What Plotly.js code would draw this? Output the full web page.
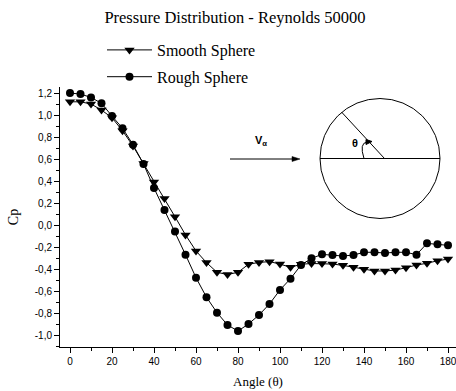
<!DOCTYPE html>
<html>
<head>
<meta charset="utf-8">
<script src="https://cdn.plot.ly/plotly-3.0.1.min.js"></script>
<style>html,body{margin:0;padding:0;background:#fff}#chart{width:456px;height:391px}</style>
</head>
<body>
<div id="chart"></div>
<script>
const angles = [0,5,10,15,20,25,30,35,40,45,50,55,60,65,70,75,80,85,90,95,100,105,110,115,120,125,130,135,140,145,150,155,160,165,170,175,180];
const smoothCp = [1.12,1.12,1.10,1.045,0.975,0.857,0.718,0.56,0.39,0.24,0.075,-0.09,-0.236,-0.342,-0.43,-0.45,-0.43,-0.357,-0.34,-0.333,-0.355,-0.385,-0.357,-0.35,-0.35,-0.355,-0.367,-0.385,-0.403,-0.418,-0.418,-0.41,-0.388,-0.364,-0.348,-0.325,-0.31];
const roughCp = [1.20,1.19,1.16,1.106,0.99,0.88,0.73,0.555,0.336,0.136,-0.06,-0.27,-0.479,-0.657,-0.797,-0.909,-0.964,-0.90,-0.818,-0.718,-0.59,-0.488,-0.364,-0.303,-0.267,-0.273,-0.282,-0.273,-0.248,-0.248,-0.255,-0.248,-0.248,-0.27,-0.167,-0.176,-0.185];
const seriesNames = ["Smooth Sphere","Rough Sphere"];
const xTickVals = [0,20,40,60,80,100,120,140,160,180];
const xTickText = ["0","20","40","60","80","100","120","140","160","180"];
const xMinorVals = [10,30,50,70,90,110,130,150,170];
const yTickVals = [-1.0,-0.8,-0.6,-0.4,-0.2,0.0,0.2,0.4,0.6,0.8,1.0,1.2];
const yTickText = ["-1,0","-0,8","-0,6","-0,4","-0,2","0,0","0,2","0,4","0,6","0,8","1,0","1,2"];
const yMinorVals = [-1.1,-0.9,-0.7,-0.5,-0.3,-0.1,0.1,0.3,0.5,0.7,0.9,1.1];
const titleText = "Pressure Distribution - Reynolds 50000";

// plot area in pixels
const L = 60, R = 456, T = 87, B = 347;
const px = v => (v - L) / (R - L);
const py = v => (B - v) / (B - T);

const serif = "Liberation Serif, Times New Roman, serif";
const sans = "Liberation Sans, Arial, sans-serif";

const traces = [
  {x: angles, y: smoothCp, name: seriesNames[0], type: "scatter", mode: "lines+markers",
   line: {color: "#000", width: 1}, marker: {symbol: "triangle-down", size: 9, color: "#000"},
   legendgroup: "a", cliponaxis: false},
  {x: angles, y: roughCp, name: seriesNames[1], type: "scatter", mode: "lines+markers",
   line: {color: "#000", width: 1}, marker: {symbol: "circle", size: 8, color: "#000"},
   legendgroup: "b", cliponaxis: false}
];

const shapes = [
  {type: "circle", xref: "paper", yref: "paper", x0: px(320), x1: px(440), y0: py(218.5), y1: py(98.5),
   line: {color: "#000", width: 1}},
  {type: "line", xref: "paper", yref: "paper", x0: px(320), x1: px(440), y0: py(158.5), y1: py(158.5),
   line: {color: "#000", width: 1}},
  {type: "line", xref: "paper", yref: "paper", x0: px(384.5), x1: px(341.5), y0: py(158.5), y1: py(112),
   line: {color: "#000", width: 1}},
  {type: "path", xref: "paper", yref: "paper",
   path: `M ${px(364)} ${py(158.5)} Q ${px(359)} ${py(143)} ${px(367)} ${py(142)}`,
   line: {color: "#000", width: 1}},
  {type: "path", xref: "paper", yref: "paper",
   path: `M ${px(366)} ${py(139.5)} L ${px(372)} ${py(141.5)} L ${px(366)} ${py(144.5)} Z`,
   fillcolor: "#000", line: {color: "#000", width: 1}},
  {type: "line", xref: "paper", yref: "paper", x0: px(230), x1: px(296), y0: py(159), y1: py(159),
   line: {color: "#000", width: 1}},
  {type: "path", xref: "paper", yref: "paper",
   path: `M ${px(292)} ${py(156.5)} L ${px(300)} ${py(159)} L ${px(292)} ${py(161.5)} Z`,
   fillcolor: "#000", line: {color: "#000", width: 0.5}}
];

const annotations = [
  {xref: "paper", yref: "paper", x: px(261), y: py(141), xanchor: "center", yanchor: "middle",
   text: "<b>V<sub>α</sub></b>", showarrow: false,
   font: {family: sans, size: 11, color: "#000"}},
  {xref: "paper", yref: "paper", x: px(355), y: py(143), xanchor: "center", yanchor: "middle",
   text: "<b>θ</b>", showarrow: false,
   font: {family: sans, size: 11, color: "#000"}}
];

const layout = {
  width: 456, height: 391,
  margin: {l: L, r: 456 - R, t: T, b: 391 - B, pad: 0},
  paper_bgcolor: "#fff", plot_bgcolor: "#fff",
  title: {text: titleText, font: {family: serif, size: 16.5, color: "#000"},
          x: px(235), xref: "paper", xanchor: "center", y: 1 - 17/391, yanchor: "middle"},
  showlegend: true,
  legend: {x: px(102), y: py(33), xref: "paper", yref: "paper", xanchor: "left", yanchor: "top",
           font: {family: serif, size: 16, color: "#000"}, bgcolor: "rgba(0,0,0,0)",
           itemwidth: 45, tracegroupgap: 3, traceorder: "grouped"},
  xaxis: {range: [(L - 70) / 2.1, (R - 70) / 2.1], showgrid: false, zeroline: false,
          showline: true, linecolor: "#000", linewidth: 1, mirror: false,
          ticks: "outside", ticklen: 5, tickwidth: 1, tickcolor: "#000",
          tickmode: "array", tickvals: xTickVals, ticktext: xTickText,
          ticklabeloverflow: "allow",
          tickfont: {family: sans, size: 10, color: "#000"},
          minor: {tickmode: "array", tickvals: xMinorVals, ticks: "outside", ticklen: 3, tickcolor: "#000", showgrid: false},
          title: {text: "Angle (θ)", font: {family: serif, size: 13, color: "#000"}, standoff: 10}},
  yaxis: {range: [(225 - B) / 110, (225 - T) / 110], showgrid: false, zeroline: false,
          showline: true, linecolor: "#000", linewidth: 1, mirror: false,
          ticks: "outside", ticklen: 5, tickwidth: 1, tickcolor: "#000",
          tickmode: "array", tickvals: yTickVals, ticktext: yTickText,
          tickfont: {family: sans, size: 10, color: "#000"},
          minor: {tickmode: "array", tickvals: yMinorVals, ticks: "outside", ticklen: 3, tickcolor: "#000", showgrid: false},
          title: {text: "Cp", font: {family: serif, size: 14, color: "#000"}, standoff: 12}},
  shapes: shapes,
  annotations: annotations
};

Plotly.newPlot("chart", traces, layout, {displayModeBar: false, staticPlot: true});
</script>
</body>
</html>
